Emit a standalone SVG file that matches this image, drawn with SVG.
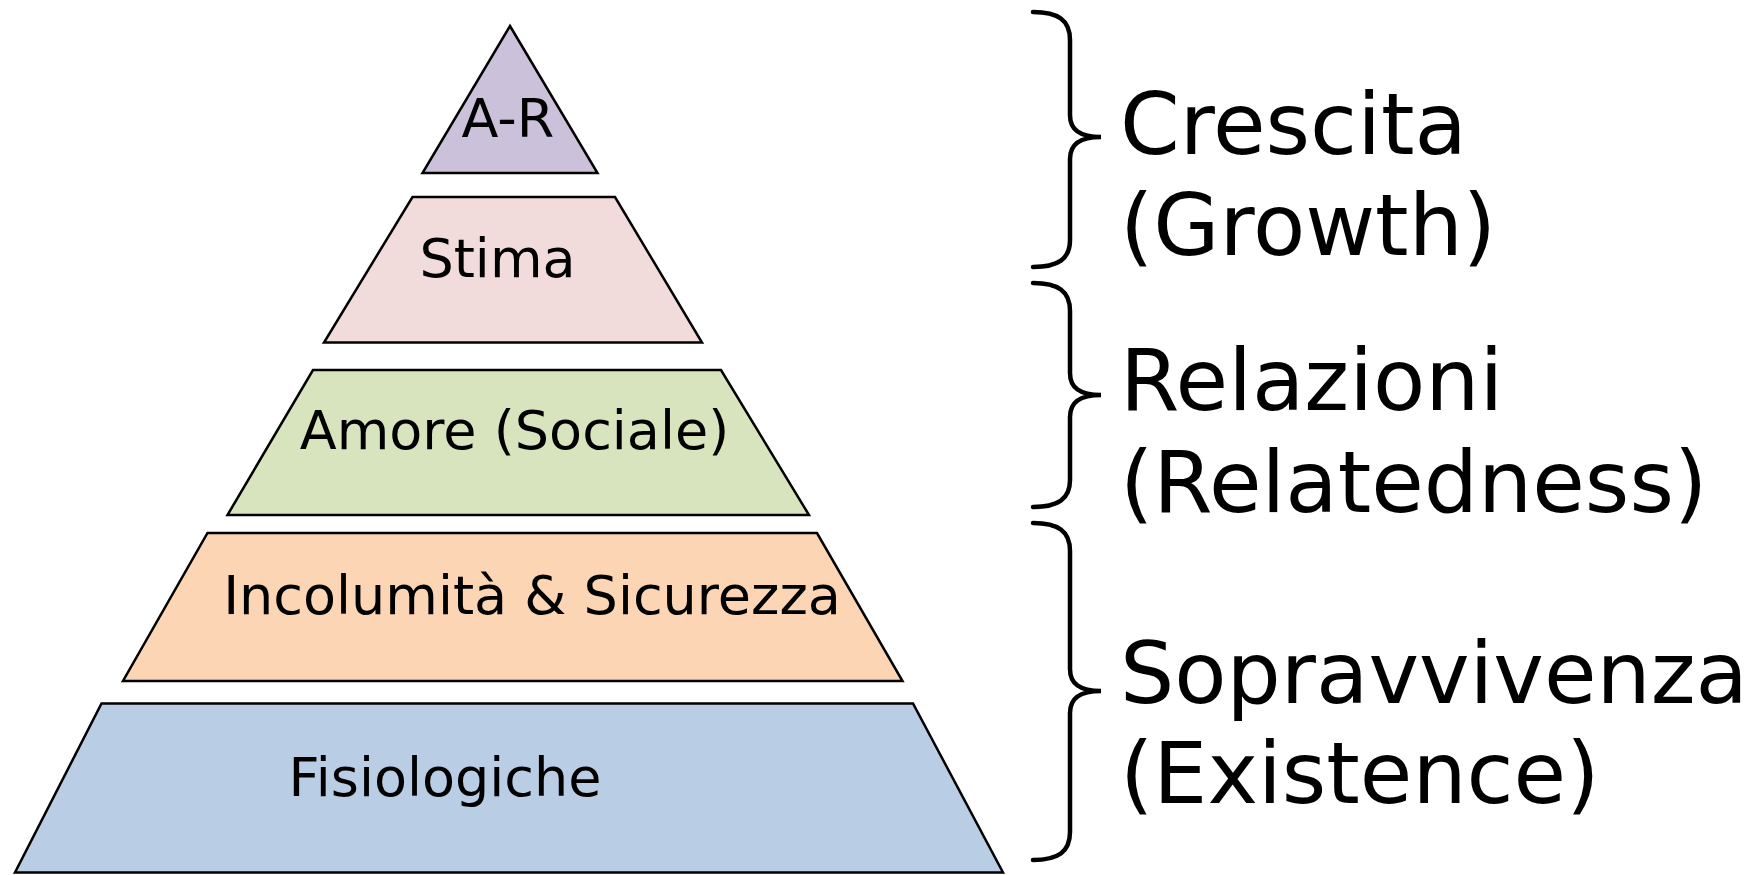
<svg xmlns="http://www.w3.org/2000/svg" width="1760" height="875" viewBox="0 0 1760 875">
<style>
.lvl{stroke:#000;stroke-width:2.5;stroke-linejoin:miter}
.lt{font-family:"DejaVu Sans",Verdana,sans-serif;font-size:54px;fill:#000;text-anchor:middle}
.rt{font-family:"DejaVu Sans",Verdana,sans-serif;font-size:85.5px;fill:#000}
.brace{fill:none;stroke:#000;stroke-width:4.5;stroke-linecap:round}
</style>
<rect width="1760" height="875" fill="#fff"/>
<g id="ar">
<polygon class="lvl" fill="#CCC1DA" points="510,26 597.5,173 422.5,173"/>
<text class="lt" x="508" y="137">A-R</text>
</g>
<g id="stima">
<polygon class="lvl" fill="#F2DCDB" points="412.5,197 615,197 702,342.5 324,342.5"/>
<text class="lt" x="497.5" y="277">Stima</text>
</g>
<g id="amore">
<polygon class="lvl" fill="#D7E4BD" points="313,370 721,370 809,515 227.5,515"/>
<text class="lt" x="514.5" y="449">Amore (Sociale)</text>
</g>
<g id="sicurezza">
<polygon class="lvl" fill="#FCD5B5" points="207.5,533 817,533 902.5,681 123,681"/>
<text class="lt" x="532" y="614">Incolumità &amp; Sicurezza</text>
</g>
<g id="fisiologiche">
<polygon class="lvl" fill="#B9CDE5" points="101.5,703.5 913,703.5 1003,872.5 15,872.5"/>
<text class="lt" x="445" y="796">Fisiologiche</text>
</g>
<g id="connectors">
<path class="brace" d="M1033,12 C1058,12 1070,20 1070,40 L1070,115 C1070,130 1080,137 1101,137 C1080,137 1070,144 1070,159 L1070,240 C1070,259 1058,267 1033,267"/>
<path class="brace" d="M1033,283 C1058,283 1070,291 1070,311 L1070,373 C1070,388 1080,395 1101,395 C1080,395 1070,402 1070,417 L1070,480 C1070,499 1058,507 1033,507"/>
<path class="brace" d="M1033,523 C1058,523 1070,531 1070,551 L1070,669 C1070,684 1080,691 1101,691 C1080,691 1070,698 1070,713 L1070,832 C1070,852 1058,860 1033,860"/>
</g>
<g id="labels">
<text class="rt" x="1120" y="154">Crescita</text>
<text class="rt" x="1120" y="255">(Growth)</text>
<text class="rt" x="1120" y="410">Relazioni</text>
<text class="rt" x="1120" y="512">(Relatedness)</text>
<text class="rt" x="1120" y="703">Sopravvivenza</text>
<text class="rt" x="1120" y="803">(Existence)</text>
</g>
</svg>
